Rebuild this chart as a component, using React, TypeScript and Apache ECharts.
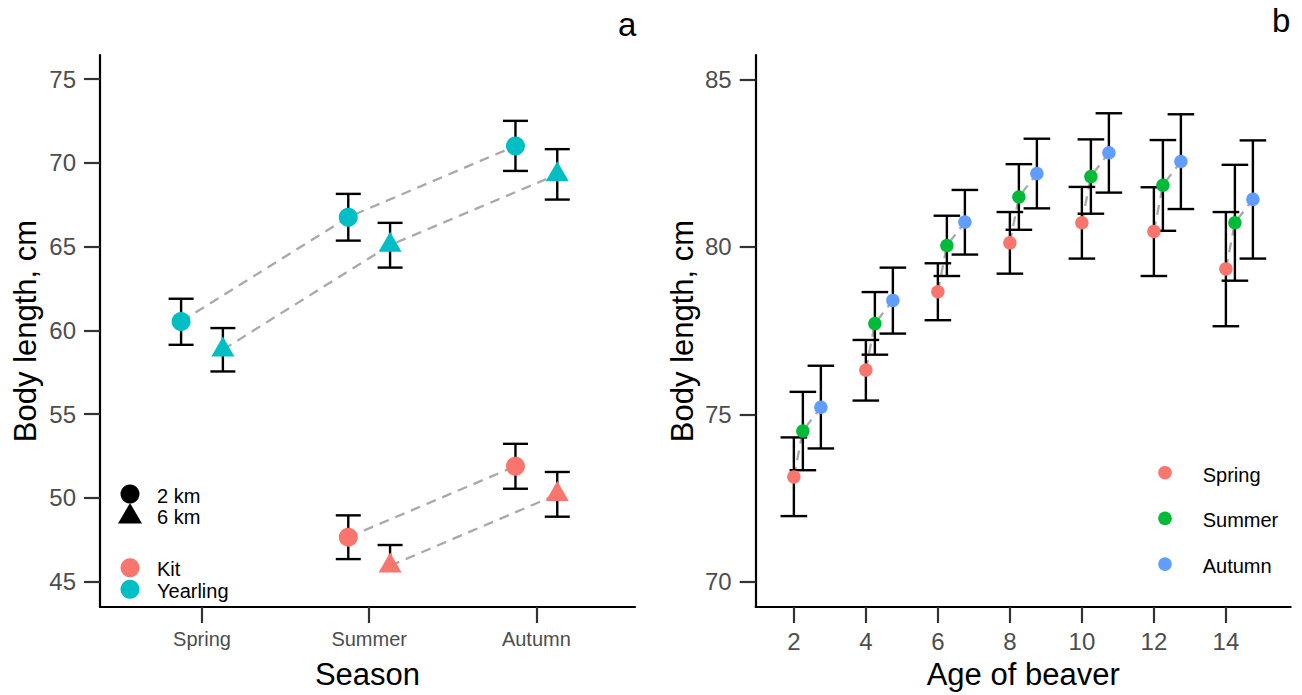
import React, { useEffect, useRef } from "react";
import * as echarts from "echarts";

const FONT = '"Liberation Sans", Arial, Helvetica, sans-serif';

// ---------- Panel a data ----------
const seasons = ["Spring", "Summer", "Autumn"];
const kitColor = "#F8766D";
const yearlingColor = "#00BFC4";
// Kit, 2 km (circle)
const kit2Mean = [null, 47.66, 51.89];
const kit2Low = [null, 46.35, 50.55];
const kit2High = [null, 48.96, 53.23];
// Kit, 6 km (triangle)
const kit6Mean = [null, 45.95, 50.21];
const kit6Low = [null, null, 48.88];
const kit6High = [null, 47.19, 51.55];
// Yearling, 2 km (circle)
const year2Mean = [60.53, 66.76, 71.01];
const year2Low = [59.14, 65.36, 69.52];
const year2High = [61.89, 68.15, 72.51];
// Yearling, 6 km (triangle)
const year6Mean = [58.85, 65.09, 69.31];
const year6Low = [57.55, 63.75, 67.81];
const year6High = [60.14, 66.42, 70.82];
const yTicksA = [45, 50, 55, 60, 65, 70, 75];

// ---------- Panel b data ----------
const ages = [2, 4, 6, 8, 10, 12, 14];
const seasonNamesB = ["Spring", "Summer", "Autumn"];
const seasonColorsB = ["#F8766D", "#00BA38", "#619CFF"];
const seasonAgeOffset = [0, 0.25, 0.75];
const springMean = [73.13, 76.32, 78.66, 80.12, 80.72, 80.46, 79.34];
const springLow = [71.96, 75.41, 77.81, 79.2, 79.65, 79.13, 77.63];
const springHigh = [74.31, 77.22, 79.51, 81.04, 81.79, 81.78, 81.04];
const summerMean = [74.5, 77.71, 80.04, 81.49, 82.1, 81.84, 80.72];
const summerLow = [73.33, 76.78, 79.13, 80.51, 80.99, 80.48, 78.99];
const summerHigh = [75.67, 78.65, 80.93, 82.47, 83.21, 83.19, 82.45];
const autumnMean = [75.21, 78.4, 80.74, 82.19, 82.81, 82.55, 81.42];
const autumnLow = [73.98, 77.41, 79.77, 81.15, 81.62, 81.13, 79.65];
const autumnHigh = [76.45, 79.38, 81.7, 83.23, 83.99, 83.96, 83.18];
const xTicksB = [2, 4, 6, 8, 10, 12, 14];
const yTicksB = [70, 75, 80, 85];

const dodgeA = 0.125;

type Pt = { x: number; m: number; lo: number | null; hi: number | null };

function buildA(mean: (number | null)[], low: (number | null)[], high: (number | null)[], off: number): Pt[] {
  const out: Pt[] = [];
  mean.forEach((m, i) => {
    if (m == null) return;
    out.push({ x: i + 1 + off, m, lo: low[i], hi: high[i] });
  });
  return out;
}

function errSeries(pts: Pt[], xi: number, yi: number, halfCap: number) {
  return {
    type: "custom",
    xAxisIndex: xi,
    yAxisIndex: yi,
    silent: true,
    z: 3,
    data: pts.map((p) => [p.x, p.m, p.lo == null ? p.m : p.lo, p.hi == null ? p.m : p.hi]),
    encode: { x: 0, y: [1, 2, 3] },
    renderItem: (params: any, api: any) => {
      const p = pts[params.dataIndex];
      const c = api.coord([p.x, p.m]);
      const style = { stroke: "#000", lineWidth: 2.4, fill: null };
      const children: any[] = [];
      const top = p.hi == null ? c : api.coord([p.x, p.hi]);
      const bot = p.lo == null ? c : api.coord([p.x, p.lo]);
      children.push({ type: "line", shape: { x1: c[0], y1: top[1], x2: c[0], y2: bot[1] }, style });
      if (p.hi != null)
        children.push({ type: "line", shape: { x1: c[0] - halfCap, y1: top[1], x2: c[0] + halfCap, y2: top[1] }, style });
      if (p.lo != null)
        children.push({ type: "line", shape: { x1: c[0] - halfCap, y1: bot[1], x2: c[0] + halfCap, y2: bot[1] }, style });
      return { type: "group", children };
    },
  };
}

const dashStyle = { color: "#A9A9A9", width: 2.3, type: [10, 7] as any };

function lineSeries(pts: Pt[], xi: number, yi: number) {
  return {
    type: "line",
    xAxisIndex: xi,
    yAxisIndex: yi,
    silent: true,
    symbol: "none",
    z: 2,
    lineStyle: dashStyle,
    data: pts.map((p) => [p.x, p.m]),
  };
}

function pointSeries(pts: Pt[], xi: number, yi: number, color: string, tri: boolean, size: number) {
  return {
    type: "scatter",
    xAxisIndex: xi,
    yAxisIndex: yi,
    silent: true,
    z: 4,
    symbol: tri ? "triangle" : "circle",
    symbolSize: tri ? [23, 20] : size,
    symbolOffset: tri ? [0, -3.3] : [0, 0],
    itemStyle: { color, opacity: 1 },
    data: pts.map((p) => [p.x, p.m]),
  };
}

export default function App() {
  const ref = useRef<HTMLDivElement>(null);
  useEffect(() => {
    document.body.style.margin = "0";
    const chart = echarts.init(ref.current!, null, { renderer: "svg" });

    const kit2 = buildA(kit2Mean, kit2Low, kit2High, -dodgeA);
    const kit6 = buildA(kit6Mean, kit6Low, kit6High, dodgeA);
    const yr2 = buildA(year2Mean, year2Low, year2High, -dodgeA);
    const yr6 = buildA(year6Mean, year6Low, year6High, dodgeA);

    const bMeans = [springMean, summerMean, autumnMean];
    const bLows = [springLow, summerLow, autumnLow];
    const bHighs = [springHigh, summerHigh, autumnHigh];
    const bPts: Pt[][] = bMeans.map((means, s) =>
      means.map((m, i) => ({ x: ages[i] + seasonAgeOffset[s], m, lo: bLows[s][i], hi: bHighs[s][i] }))
    );
    const bLines = ages.map((_, i) => ({
      type: "line",
      xAxisIndex: 1,
      yAxisIndex: 1,
      silent: true,
      symbol: "none",
      z: 2,
      lineStyle: dashStyle,
      data: [0, 1, 2].map((s) => [bPts[s][i].x, bPts[s][i].m]),
    }));

    const axisCommon = {
      axisLine: { show: true, onZero: false, lineStyle: { color: "#000", width: 2.2 } },
      splitLine: { show: false },
    };
    const tickStyle = { show: true, length: 16, lineStyle: { color: "#333", width: 2.2 } };

    const option: any = {
      animation: false,
      textStyle: { fontFamily: FONT },
      grid: [
        { left: 100, top: 55, width: 535, height: 552.3 },
        { left: 755.7, top: 55, width: 535, height: 552.3 },
      ],
      xAxis: [
        {
          type: "value",
          gridIndex: 0,
          min: 0.39,
          max: 3.59,
          ...axisCommon,
          axisTick: { ...tickStyle, customValues: [1, 2, 3] },
          axisLabel: {
            customValues: [1, 2, 3],
            formatter: (v: number) => seasons[Math.round(v) - 1],
            fontSize: 20,
            color: "#4D4D4D",
            margin: 22,
            fontFamily: FONT,
          },
          name: "Season",
          nameLocation: "middle",
          nameGap: 52,
          nameTextStyle: { fontSize: 31, color: "#000", fontFamily: FONT },
        },
        {
          type: "value",
          gridIndex: 1,
          min: 0.94,
          max: 15.8,
          ...axisCommon,
          axisTick: { ...tickStyle, customValues: xTicksB },
          axisLabel: {
            customValues: xTicksB,
            formatter: (v: number) => String(v),
            fontSize: 24,
            color: "#4D4D4D",
            margin: 22,
            fontFamily: FONT,
          },
          name: "Age of beaver",
          nameLocation: "middle",
          nameGap: 52,
          nameTextStyle: { fontSize: 31, color: "#000", fontFamily: FONT },
        },
      ],
      yAxis: [
        {
          type: "value",
          gridIndex: 0,
          min: 43.49,
          max: 76.44,
          ...axisCommon,
          axisTick: { ...tickStyle, customValues: yTicksA },
          axisLabel: {
            customValues: yTicksA,
            formatter: (v: number) => String(v),
            fontSize: 24,
            color: "#4D4D4D",
            margin: 24,
            fontFamily: FONT,
          },
          name: "Body length, cm",
          nameLocation: "middle",
          nameGap: 59,
          nameTextStyle: { fontSize: 31, color: "#000", fontFamily: FONT },
        },
        {
          type: "value",
          gridIndex: 1,
          min: 69.245,
          max: 85.73,
          ...axisCommon,
          axisTick: { ...tickStyle, customValues: yTicksB },
          axisLabel: {
            customValues: yTicksB,
            formatter: (v: number) => String(v),
            fontSize: 24,
            color: "#4D4D4D",
            margin: 24,
            fontFamily: FONT,
          },
          name: "Body length, cm",
          nameLocation: "middle",
          nameGap: 58,
          nameTextStyle: { fontSize: 31, color: "#000", fontFamily: FONT },
        },
      ],
      series: [
        lineSeries(kit2, 0, 0),
        lineSeries(kit6, 0, 0),
        lineSeries(yr2, 0, 0),
        lineSeries(yr6, 0, 0),
        ...bLines,
        errSeries(kit2, 0, 0, 12.5),
        errSeries(kit6, 0, 0, 12.5),
        errSeries(yr2, 0, 0, 12.5),
        errSeries(yr6, 0, 0, 12.5),
        ...bPts.map((pts) => errSeries(pts, 1, 1, 13.3)),
        pointSeries(kit2, 0, 0, kitColor, false, 19),
        pointSeries(kit6, 0, 0, kitColor, true, 19),
        pointSeries(yr2, 0, 0, yearlingColor, false, 19),
        pointSeries(yr6, 0, 0, yearlingColor, true, 19),
        ...bPts.map((pts, s) => pointSeries(pts, 1, 1, seasonColorsB[s], false, 13.5)),
      ],
      graphic: [
        { type: "text", left: 618, top: 8, style: { text: "a", fontSize: 33, fill: "#000", fontFamily: FONT } },
        { type: "text", left: 1272, top: 4, style: { text: "b", fontSize: 33, fill: "#000", fontFamily: FONT } },
        // panel a legend: shape
        { type: "circle", shape: { cx: 130, cy: 494, r: 9.5 }, style: { fill: "#000" } },
        { type: "polygon", shape: { points: [[130, 503], [118, 523.5], [142, 523.5]] }, style: { fill: "#000" } },
        { type: "text", x: 157, y: 496, style: { text: "2 km", fontSize: 20, fill: "#000", fontFamily: FONT, verticalAlign: "middle" } },
        { type: "text", x: 157, y: 517, style: { text: "6 km", fontSize: 20, fill: "#000", fontFamily: FONT, verticalAlign: "middle" } },
        // panel a legend: colour
        { type: "circle", shape: { cx: 130, cy: 567.7, r: 9.5 }, style: { fill: kitColor } },
        { type: "circle", shape: { cx: 130, cy: 589.3, r: 9.5 }, style: { fill: yearlingColor } },
        { type: "text", x: 157, y: 568.5, style: { text: "Kit", fontSize: 20, fill: "#000", fontFamily: FONT, verticalAlign: "middle" } },
        { type: "text", x: 157, y: 590.5, style: { text: "Yearling", fontSize: 20, fill: "#000", fontFamily: FONT, verticalAlign: "middle" } },
        // panel b legend
        ...seasonNamesB.flatMap((name, i) => [
          { type: "circle", shape: { cx: 1165, cy: 472.7 + i * 45.7, r: 6.8 }, style: { fill: seasonColorsB[i] } },
          {
            type: "text",
            x: 1202.7,
            y: 474.5 + i * 45.7,
            style: { text: name, fontSize: 20, fill: "#000", fontFamily: FONT, verticalAlign: "middle" },
          },
        ]),
      ],
    };
    chart.setOption(option);
    return () => chart.dispose();
  }, []);
  return <div ref={ref} style={{ width: 1302, height: 695 }} />;
}
